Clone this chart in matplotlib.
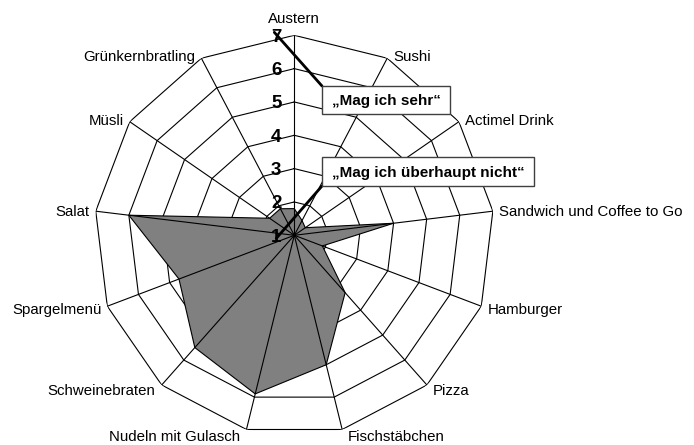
import numpy as np
import matplotlib
matplotlib.use('Agg')
import matplotlib.pyplot as plt
import matplotlib.transforms as mtransforms
from matplotlib.patches import Rectangle

plt.rcParams['font.family'] = ['Liberation Sans', 'DejaVu Sans']

# Speisen im Uhrzeigersinn ab oben, Bewertung 1 (gar nicht) bis 7 (sehr)
speisen = ['Austern', 'Sushi', 'Actimel Drink', 'Sandwich und Coffee to Go',
           'Hamburger', 'Pizza', 'Fischstäbchen', 'Nudeln mit Gulasch',
           'Schweinebraten', 'Spargelmenü', 'Salat', 'Müsli', 'Grünkernbratling']
bewertung = [1.8, 1.5, 1.4, 4.0, 1.9, 3.3, 5.0, 5.9, 5.5, 4.7, 6.0, 1.9, 1.9]
skala = [1, 2, 3, 4, 5, 6, 7]

W, H = 694, 445
fig = plt.figure(figsize=(W / 100, H / 100), dpi=100)

def px(x, y):
    # Pixel (von oben links) -> Figure-Koordinaten
    return x / W, 1 - y / H

cx, cy, R = 294.3, 235.3, 200
ax = fig.add_axes([(cx - R) / W, (H - cy - R) / H, 2 * R / W, 2 * R / H],
                  projection='polar')
ax.set_theta_zero_location('N')
ax.set_theta_direction(-1)
ax.set_ylim(skala[0], skala[-1])
ax.set_axis_off()

n = len(speisen)
theta = np.arange(n) * 2 * np.pi / n
th = np.append(theta, theta[0])
werte = np.append(bewertung, bewertung[0])

# Netz (Ringe hinter der Fläche)
for r in skala[1:]:
    ax.plot(th, [r] * (n + 1), color='black', lw=0.8, zorder=1)

ax.fill(th, werte, facecolor='#808080', edgecolor='black', lw=0.8, zorder=2)

# Speichen
for t in theta:
    ax.plot([t, t], [skala[0], skala[-1]], color='black', lw=0.8, zorder=3)

# Skalenbeschriftung links der oberen Achse
lbl_tr = ax.transData + mtransforms.ScaledTranslation(-0.18, 0, fig.dpi_scale_trans)
for r in skala:
    ax.text(0, r, str(r), transform=lbl_tr, ha='center', va='center_baseline',
            fontsize=13.5, fontweight='bold', zorder=4)

# Kategorienamen außen
for t, name in zip(theta, speisen):
    s, c = np.sin(t), np.cos(t)
    if abs(s) < 0.1:
        ha, dx, dy = 'center', 0, 18
    else:
        ha = 'left' if s > 0 else 'right'
        dx = 6 if s > 0 else -6
        dy = 3 * c if c > 0 else 6.5 * c
    tr = ax.transData + mtransforms.ScaledTranslation(dx / 100, dy / 100,
                                                      fig.dpi_scale_trans)
    ax.text(t, skala[-1], name, transform=tr, ha=ha, va='center_baseline',
            fontsize=10.8)

# Legendenkästen mit Verbindungslinien
kaesten = [('„Mag ich sehr“', 322, 86, 128, 28, 7, (0, 0), (-2, 3)),
           ('„Mag ich überhaupt nicht“', 322, 157, 212, 29, 1, (0, 29), (0, -3))]
for text, x0, y0, w, h, r, ecke, versatz in kaesten:
    fig.add_artist(Rectangle(px(x0, y0 + h), w / W, h / H, transform=fig.transFigure,
                             facecolor='white', edgecolor='#404040', lw=1.0, zorder=5))
    fig.text(*px(x0 + 10, y0 + h / 2), text, ha='left', va='center_baseline',
             fontsize=11, fontweight='bold', zorder=6)
    start_tr = lbl_tr + mtransforms.ScaledTranslation(versatz[0] / 100, versatz[1] / 100,
                                                      fig.dpi_scale_trans)
    ax.annotate('', xy=(0, r), xycoords=start_tr,
                xytext=px(x0 + ecke[0], y0 + ecke[1]), textcoords='figure fraction',
                arrowprops=dict(arrowstyle='-', color='black', lw=2.0,
                                shrinkA=0, shrinkB=0), zorder=4)

plt.savefig('out.png', dpi=100)
